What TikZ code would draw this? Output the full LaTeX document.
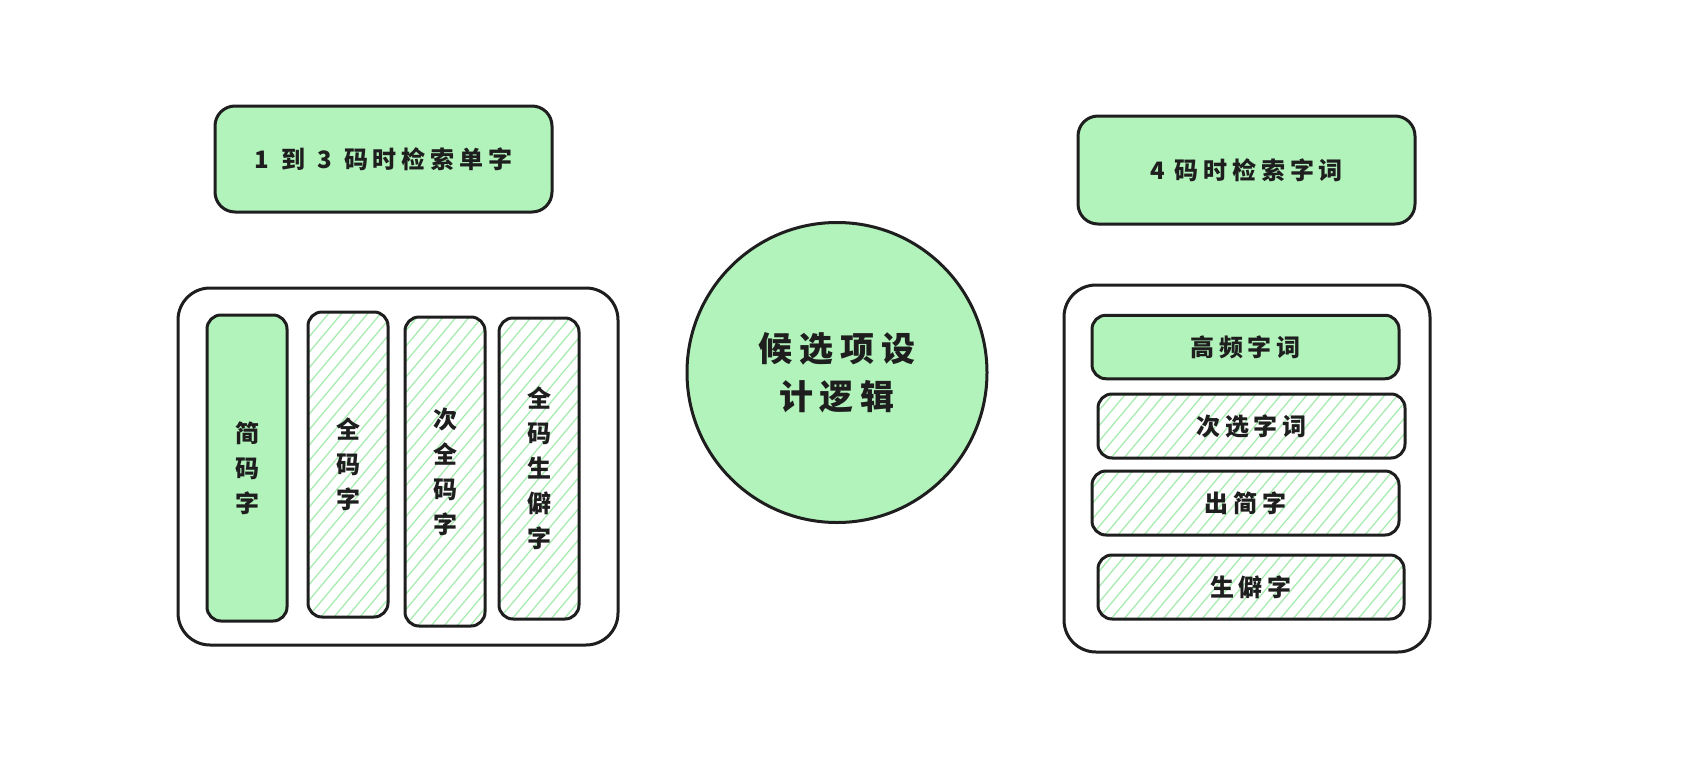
\documentclass[tikz,border=0pt]{standalone}
\usepackage{fontspec}
\newfontfamily\cjk[LetterSpace=20]{Noto Sans CJK SC}
\definecolor{exgreen}{HTML}{B2F2BB}
\definecolor{exhatch}{HTML}{A8ECB2}
\definecolor{exink}{HTML}{1E1E1E}
\begin{document}
\begin{tikzpicture}[x=1pt,y=-1pt,
  base/.style={draw=exink,line width=3pt,text=exink,inner sep=0pt,font=\cjk\bfseries\fontsize{24}{35}\selectfont,align=center},
  solidbox/.style={base,rectangle,fill=exgreen,rounded corners=14pt},
  titlebox/.style={base,rectangle,fill=exgreen,rounded corners=20pt},
  frame/.style={base,rectangle,fill=white,rounded corners=32pt},
  hatched/.style={base,rectangle,fill=white,rounded corners=14pt,
    path picture={\foreach \i in {-28,...,30}{\draw[exhatch,line width=1.3pt] ([xshift=\i*13pt]path picture bounding box.south west) -- ++(50:480pt);}}},
  roundnode/.style={base,circle,fill=exgreen,font=\cjk\bfseries\fontsize{34}{48}\selectfont}
]
\useasboundingbox (0,0) rectangle (1695,758);
\fill[white] (0,0) rectangle (1695,758);

% left side
\node[titlebox,minimum width=337pt,minimum height=106pt] (t1) at (383.5,159) {1\hspace{12pt}到\hspace{12pt}3\hspace{12pt}码时检索单字};
\node[frame,minimum width=440pt,minimum height=357pt] (lf) at (398,466.5) {};
\node[solidbox,minimum width=80pt,minimum height=306pt] (c1) at (247,468) {简\\码\\字};
\node[hatched,minimum width=80pt,minimum height=305pt] (c2) at (348,464.5) {全\\码\\字};
\node[hatched,minimum width=80pt,minimum height=309pt] (c3) at (445,471.5) {次\\全\\码\\字};
\node[hatched,minimum width=80pt,minimum height=301pt] (c4) at (539,468.5) {全\\码\\生\\僻\\字};

% centre
\node[roundnode,minimum size=300pt] (ctr) at (837,372.5) {候选项设\\计逻辑};

% right side
\node[titlebox,minimum width=337pt,minimum height=108pt] (t2) at (1246.5,170) {4\hspace{10pt}码时检索字词};
\node[frame,minimum width=366pt,minimum height=367pt] (rf) at (1247,468.5) {};
\node[solidbox,minimum width=307pt,minimum height=63.5pt] (r1) at (1245.5,347) {高频字词};
\node[hatched,minimum width=307pt,minimum height=64pt] (r2) at (1251.5,426) {次选字词};
\node[hatched,minimum width=307pt,minimum height=64pt] (r3) at (1245.5,503) {出简字};
\node[hatched,minimum width=306pt,minimum height=64pt] (r4) at (1251,587) {生僻字};
\end{tikzpicture}
\end{document}
